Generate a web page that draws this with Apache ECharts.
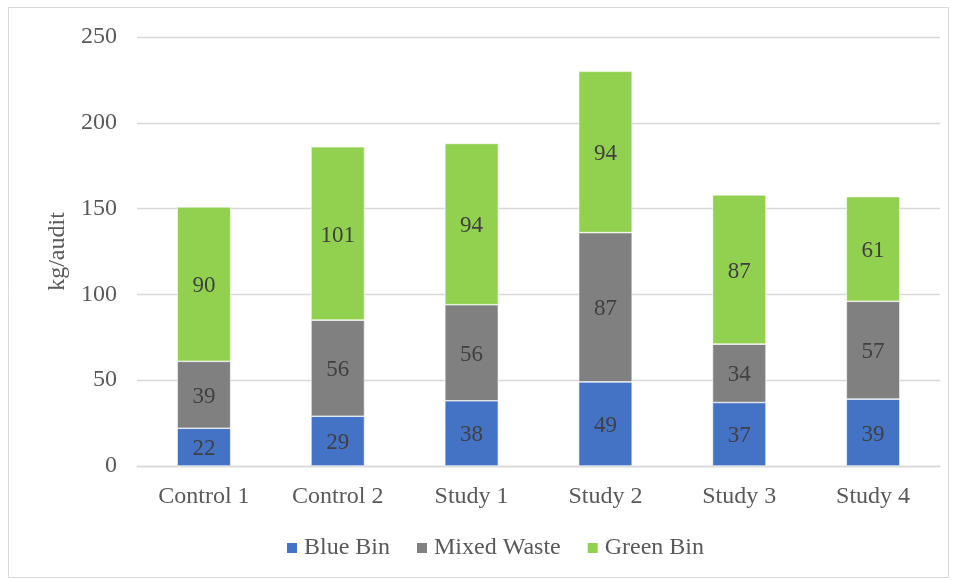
<!DOCTYPE html>
<html>
<head>
<meta charset="utf-8">
<script src="https://cdn.jsdelivr.net/npm/echarts@6/dist/echarts.min.js"></script>
<style>
  html, body { margin: 0; padding: 0; background: #fff; }
  #chart { width: 958px; height: 580px; }
</style>
</head>
<body>
<div id="chart"></div>
<script>
// Audit sites and average kg per audit by bin stream
const categories = ['Control 1', 'Control 2', 'Study 1', 'Study 2', 'Study 3', 'Study 4'];
const blueBin = [22, 29, 38, 49, 37, 39];
const mixedWaste = [39, 56, 56, 87, 34, 57];
const greenBin = [90, 101, 94, 94, 87, 61];
const yTicks = { min: 0, max: 250, interval: 50 };

const FONT = '"Liberation Serif", "Times New Roman", serif';
const TEXT = '#595959';

function stack(name, data, color) {
  return {
    name: name,
    type: 'bar',
    stack: 'total',
    data: data,
    barWidth: '40%',
    itemStyle: { color: color, borderColor: '#ffffff', borderWidth: 0.6 },
    label: {
      show: true,
      position: 'inside',
      offset: [0, 2],
      color: '#404040',
      fontFamily: FONT,
      fontSize: 23
    }
  };
}

const chart = echarts.init(document.getElementById('chart'), null, { renderer: 'canvas' });
chart.setOption({
  animation: false,
  backgroundColor: '#ffffff',
  graphic: [{
    type: 'rect',
    shape: { x: 8.5, y: 7.5, width: 940, height: 570 },
    style: { fill: 'none', stroke: '#d9d9d9', lineWidth: 1 },
    silent: true,
    z: -1
  }],
  grid: { left: 137, right: 18, top: 37, bottom: 114 },
  legend: {
    bottom: 15,
    left: 280,
    itemWidth: 12,
    itemHeight: 12,
    itemGap: 25,
    icon: 'rect',
    textStyle: { color: TEXT, fontFamily: FONT, fontSize: 24, padding: [0, 0, 0, 1] },
    data: ['Blue Bin', 'Mixed Waste', 'Green Bin']
  },
  xAxis: {
    type: 'category',
    data: categories,
    axisLine: { lineStyle: { color: '#d9d9d9', width: 1.3 } },
    axisTick: { show: false },
    axisLabel: { color: TEXT, fontFamily: FONT, fontSize: 24, margin: 19 }
  },
  yAxis: {
    type: 'value',
    min: yTicks.min,
    max: yTicks.max,
    interval: yTicks.interval,
    name: 'kg/audit',
    nameLocation: 'middle',
    nameGap: 67,
    nameRotate: 90,
    nameTextStyle: { color: TEXT, fontFamily: FONT, fontSize: 24 },
    axisLine: { show: false },
    axisTick: { show: false },
    axisLabel: { color: TEXT, fontFamily: FONT, fontSize: 24, margin: 20 },
    splitLine: { lineStyle: { color: '#d9d9d9', width: 1.3 } }
  },
  series: [
    stack('Blue Bin', blueBin, '#4472c4'),
    stack('Mixed Waste', mixedWaste, '#808080'),
    stack('Green Bin', greenBin, '#92d050')
  ]
});
</script>
</body>
</html>
